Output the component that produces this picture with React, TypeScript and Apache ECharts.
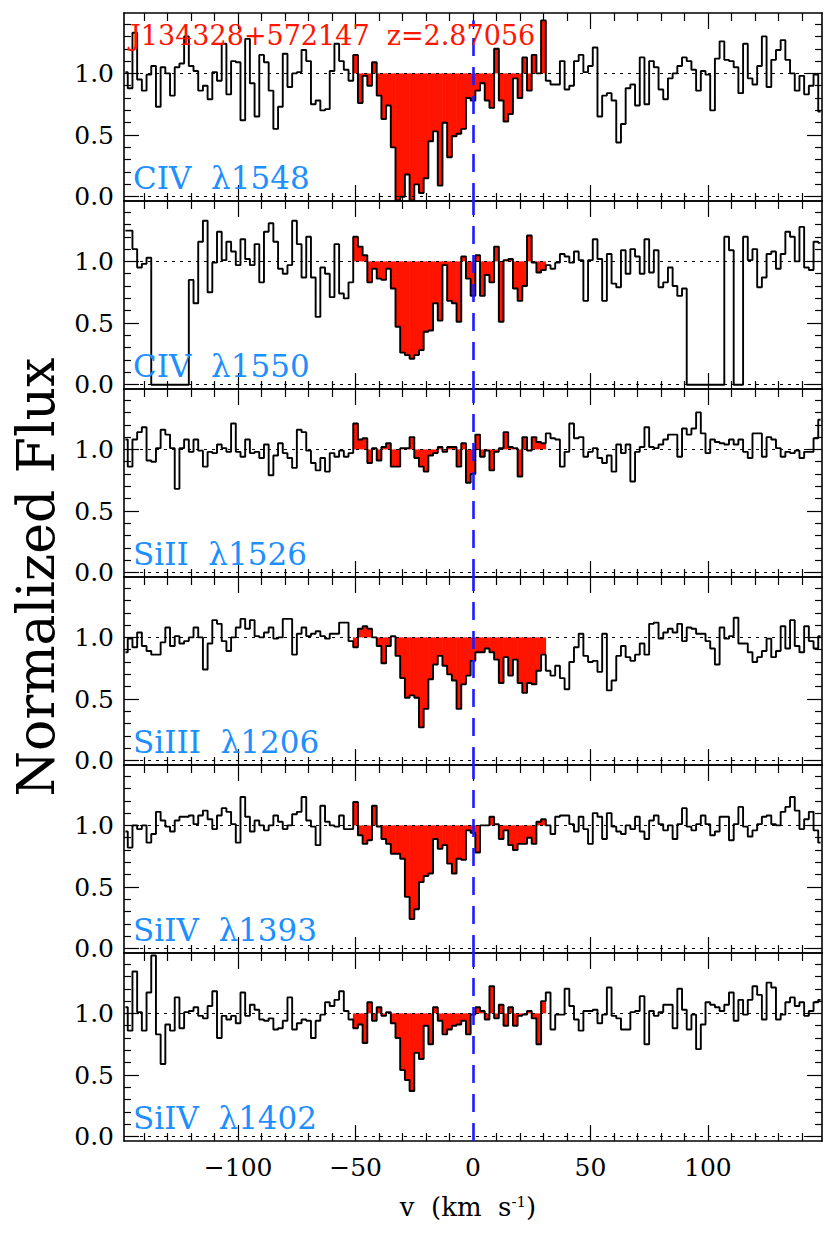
import React, { useEffect, useRef } from "react";
import * as echarts from "echarts";

// ---------------- data ----------------
const VELOCITY = [
  -148, -146, -144, -142, -140, -138, -136, -134, -132, -130,
  -128, -126, -124, -122, -120, -118, -116, -114, -112, -110,
  -108, -106, -104, -102, -100, -98, -96, -94, -92, -90,
  -88, -86, -84, -82, -80, -78, -76, -74, -72, -70,
  -68, -66, -64, -62, -60, -58, -56, -54, -52, -50,
  -48, -46, -44, -42, -40, -38, -36, -34, -32, -30,
  -28, -26, -24, -22, -20, -18, -16, -14, -12, -10,
  -8, -6, -4, -2, 0, 2, 4, 6, 8, 10,
  12, 14, 16, 18, 20, 22, 24, 26, 28, 30,
  32, 34, 36, 38, 40, 42, 44, 46, 48, 50,
  52, 54, 56, 58, 60, 62, 64, 66, 68, 70,
  72, 74, 76, 78, 80, 82, 84, 86, 88, 90,
  92, 94, 96, 98, 100, 102, 104, 106, 108, 110,
  112, 114, 116, 118, 120, 122, 124, 126, 128, 130,
  132, 134, 136, 138, 140, 142, 144, 146, 148,
];

const FLUX_CIV_1548 = [
  1.01, 0.88, 1.33, 0.95, 0.86, 0.99, 1.06, 0.73, 1.05, 1.0,
  0.82, 1.05, 1.08, 1.3, 1.06, 1.02, 0.86, 0.9, 0.79, 1.01,
  0.94, 1.24, 0.83, 1.1, 1.09, 0.62, 1.28, 0.92, 0.65, 1.15,
  1.09, 0.86, 0.55, 0.73, 1.16, 0.89, 1.0, 1.01, 1.19, 1.1,
  0.75, 0.78, 0.7, 0.71, 1.02, 1.24, 1.1, 1.03, 0.94, 1.15,
  0.76, 0.98, 0.9, 1.09, 0.82, 0.63, 0.74, 0.4, -0.03, 0.0,
  0.18, -0.03, 0.1, 0.03, 0.15, 0.45, 0.53, 0.09, 0.6, 0.32,
  0.49, 0.51, 0.55, 0.8, 0.78, 0.86, 0.92, 0.78, 0.72, 1.2,
  0.78, 0.61, 0.67, 0.96, 0.8, 1.13, 0.86, 1.15, 1.0, 1.43,
  0.94, 0.91, 0.91, 1.1, 0.87, 0.9, 1.1, 1.15, 1.01, 1.06,
  1.21, 0.65, 0.82, 0.84, 0.78, 0.44, 0.59, 0.88, 0.91, 0.74,
  1.13, 0.75, 1.1, 1.05, 0.87, 0.79, 0.96, 1.0, 1.06, 1.13,
  1.1, 1.03, 0.86, 1.02, 0.99, 0.7, 1.12, 1.26, 1.11, 1.1,
  1.05, 0.84, 1.24, 0.96, 0.91, 1.06, 1.3, 0.89, 1.11, 1.19,
  1.27, 1.11, 1.0, 0.86, 0.98, 0.83, 0.9, 0.99, 0.69,
];

const FLUX_CIV_1550 = [
  1.25, 1.25, 1.1, 0.95, 0.98, 1.03, 0, 0, 0, 0,
  0, 0, 0, 0, 0.85, 0.66, 1.16, 1.33, 0.75, 0.99,
  1.24, 1.01, 1.16, 1.08, 0.97, 1.18, 1.02, 0.97, 1.14, 0.83,
  1.24, 1.31, 1.16, 0.94, 0.9, 0.97, 1.33, 1.14, 0.87, 1.2,
  0.87, 0.55, 0.95, 0.9, 0.71, 1.14, 0.74, 0.7, 0.83, 1.2,
  1.12, 1.05, 0.83, 0.94, 0.86, 0.85, 0.94, 0.78, 0.47, 0.26,
  0.24, 0.21, 0.24, 0.28, 0.43, 0.44, 0.66, 0.52, 0.97, 0.68,
  0.66, 0.51, 1.04, 0.86, 0.72, 1.05, 0.72, 0.89, 0.83, 1.12,
  0.51, 1.01, 1.02, 0.78, 0.68, 0.8, 1.21, 0.99, 0.91, 0.93,
  0.97, 0.94, 0.99, 1.06, 1.04, 0.99, 1.08, 1.01, 0.68, 1.01,
  1.18, 1.02, 0.68, 1.06, 0.82, 0.79, 1.09, 0.9, 1.1, 1.04,
  0.9, 1.18, 0.91, 1.09, 0.79, 0.83, 0.95, 0.8, 0.72, 0.78,
  0, 0, 0, 0, 0, 0, 0, 0, 1.2, 1.09,
  0, 0, 1.2, 1.01, 1.1, 0.79, 0.87, 1.06, 1.08, 0.94,
  1.06, 1.24, 1.2, 1.0, 1.28, 0.95, 0.93, 1.16, 1.15,
];

const FLUX_SIII_1526 = [
  1.08, 0.86, 1.08, 1.14, 1.18, 0.91, 0.9, 1.01, 1.16, 1.12,
  1.01, 0.68, 1.01, 1.08, 0.98, 1.08, 0.99, 0.86, 0.98, 0.97,
  1.04, 1.01, 0.98, 1.21, 0.98, 0.94, 1.08, 0.97, 0.98, 0.93,
  1.04, 0.79, 0.95, 1.05, 0.97, 0.93, 0.85, 1.16, 1.14, 0.99,
  0.89, 0.83, 0.93, 0.82, 0.97, 0.94, 0.99, 0.94, 0.97, 1.21,
  1.08, 1.09, 0.89, 1.01, 0.91, 1.02, 1.05, 0.86, 0.86, 1.01,
  1.01, 1.1, 0.93, 0.86, 0.82, 0.95, 0.97, 1.02, 0.98, 1.02,
  1.02, 0.86, 1.05, 0.73, 0.8, 1.12, 0.94, 0.99, 0.83, 0.98,
  1.01, 1.14, 1.02, 1.01, 0.78, 1.1, 0.99, 1.1, 1.06, 1.05,
  1.13, 1.09, 1.08, 0.86, 0.98, 1.21, 1.09, 1.1, 0.94, 0.98,
  1.01, 0.93, 0.89, 0.95, 0.82, 1.04, 0.97, 1.04, 0.74, 0.98,
  1.02, 1.18, 1.02, 1.01, 1.04, 1.08, 1.12, 1.12, 0.94, 1.17,
  1.12, 1.17, 1.3, 1.13, 0.97, 1.08, 1.06, 1.05, 1.04, 1.08,
  1.04, 1.08, 0.98, 0.93, 1.13, 1.13, 0.94, 1.1, 1.08, 1.01,
  0.94, 0.98, 0.97, 0.99, 0.93, 0.98, 0.98, 1.09, 1.24,
];

const FLUX_SIIII_1206 = [
  0.88, 0.99, 0.92, 1.04, 0.93, 0.89, 0.86, 0.86, 0.96, 1.08,
  0.93, 1.01, 0.95, 0.97, 1.0, 1.08, 1.0, 0.74, 0.95, 1.14,
  1.11, 0.97, 0.89, 1.0, 1.08, 1.15, 1.07, 1.14, 1.01, 1.0,
  1.04, 1.08, 0.99, 1.0, 1.15, 1.15, 0.86, 1.03, 1.08, 1.01,
  1.03, 1.05, 1.01, 0.99, 1.03, 1.03, 1.12, 1.12, 0.97, 0.92,
  1.07, 1.09, 1.07, 1.0, 0.93, 0.79, 0.93, 1.01, 0.85, 0.67,
  0.51, 0.53, 0.51, 0.27, 0.42, 0.66, 0.78, 0.85, 0.77, 0.7,
  0.65, 0.42, 0.62, 0.69, 0.81, 0.88, 0.88, 0.91, 0.88, 0.82,
  0.63, 0.84, 0.69, 0.82, 0.63, 0.55, 0.63, 0.62, 0.73, 0.86,
  0.73, 0.69, 0.77, 0.67, 0.58, 0.8, 0.92, 1.03, 0.85, 0.8,
  0.81, 0.72, 1.03, 0.57, 0.65, 0.85, 0.93, 0.84, 0.81, 0.86,
  0.95, 0.86, 1.11, 1.12, 0.99, 1.04, 1.07, 1.04, 1.11, 0.97,
  1.08, 1.07, 1.03, 1.03, 0.97, 0.91, 0.78, 1.08, 0.99, 1.01,
  1.16, 0.95, 0.95, 0.88, 0.8, 0.84, 0.89, 0.99, 0.84, 0.89,
  1.09, 0.91, 1.14, 0.93, 0.88, 1.09, 0.97, 0.91, 1.01,
];

const FLUX_SIIV_1393 = [
  0.95, 0.82, 1.0, 0.97, 1.0, 0.86, 0.93, 1.11, 1.04, 0.99,
  0.95, 1.04, 1.07, 1.07, 1.08, 1.01, 1.08, 1.12, 1.05, 0.97,
  1.08, 1.14, 1.11, 1.01, 0.86, 1.23, 1.07, 0.95, 1.04, 1.0,
  0.96, 1.0, 1.08, 1.03, 0.97, 1.0, 1.09, 1.11, 1.23, 1.04,
  0.99, 0.84, 1.16, 1.03, 1.0, 0.99, 1.08, 0.97, 0.97, 1.19,
  0.92, 0.85, 0.88, 1.16, 0.99, 0.89, 0.85, 0.77, 0.77, 0.73,
  0.42, 0.24, 0.32, 0.54, 0.59, 0.61, 0.89, 0.81, 0.84, 0.69,
  0.61, 0.73, 0.72, 0.96, 0.94, 0.78, 1.0, 1.0, 1.07, 1.01,
  0.89, 0.96, 0.84, 0.8, 0.85, 0.85, 0.9, 0.85, 1.03, 1.05,
  1.0, 0.93, 1.07, 1.08, 1.08, 1.01, 0.95, 1.07, 0.97, 0.85,
  1.1, 1.07, 0.89, 1.1, 0.99, 0.95, 0.93, 1.0, 0.97, 1.07,
  0.95, 0.89, 1.04, 1.08, 1.01, 0.96, 1.0, 0.89, 1.01, 1.14,
  0.99, 0.96, 1.01, 1.08, 1.01, 0.92, 0.95, 1.07, 1.07, 0.88,
  1.01, 1.15, 0.99, 0.91, 0.96, 1.01, 1.07, 1.08, 1.01, 1.0,
  1.11, 1.15, 1.23, 1.12, 0.97, 1.05, 1.11, 0.96, 0.86,
];

const FLUX_SIIV_1402 = [
  1.05, 0.86, 1.34, 1.01, 0.86, 1.17, 1.47, 0.83, 0.59, 0.91,
  0.86, 1.13, 0.88, 1.01, 1.02, 1.05, 0.98, 0.96, 1.06, 1.18,
  0.8, 0.98, 0.95, 0.98, 0.92, 1.17, 0.98, 1.07, 1.03, 0.95,
  0.94, 0.96, 0.87, 0.88, 0.94, 1.13, 0.87, 0.92, 0.95, 0.94,
  0.8, 0.94, 0.99, 1.09, 1.06, 1.11, 1.18, 1.02, 0.95, 0.88,
  0.91, 0.76, 1.09, 0.94, 1.05, 0.98, 1.01, 0.92, 0.8, 0.54,
  0.46, 0.37, 0.68, 0.63, 0.9, 0.75, 1.05, 0.94, 0.83, 0.87,
  0.9, 0.91, 0.94, 0.83, 0.99, 1.05, 1.02, 0.95, 1.22, 0.96,
  1.07, 0.9, 1.05, 0.9, 0.98, 0.99, 1.02, 0.96, 0.75, 1.1,
  1.17, 0.87, 0.99, 0.99, 1.2, 1.06, 0.95, 0.86, 1.02, 1.02,
  1.03, 0.92, 0.99, 1.21, 0.98, 0.96, 0.87, 0.87, 1.01, 1.02,
  1.14, 0.75, 1.02, 0.98, 1.01, 1.07, 1.07, 0.88, 1.2, 1.03,
  0.87, 0.99, 0.71, 0.91, 1.09, 1.07, 1.05, 1.02, 1.07, 1.17,
  0.94, 1.11, 0.99, 1.11, 1.22, 1.15, 0.95, 1.25, 1.21, 0.95,
  0.99, 1.09, 1.13, 1.06, 1.09, 0.98, 1.02, 1.09, 1.11,
];

const PANEL_FLUX = [
  FLUX_CIV_1548,
  FLUX_CIV_1550,
  FLUX_SIII_1526,
  FLUX_SIIII_1206,
  FLUX_SIIV_1393,
  FLUX_SIIV_1402,
];
const PANEL_LABELS = [
  "CIV\u00a0 \u03bb1548",
  "CIV\u00a0 \u03bb1550",
  "SiII\u00a0 \u03bb1526",
  "SiIII\u00a0 \u03bb1206",
  "SiIV\u00a0 \u03bb1393",
  "SiIV\u00a0 \u03bb1402",
];
const TITLE_TEXT = "J134328+572147\u00a0 z=2.87056";
const Y_TITLE = "Normalized Flux";
const X_TITLE = "v\u00a0 (km\u00a0 s{sup|-1})";

const X_MAJOR_TICKS = [-100, -50, 0, 50, 100];
const X_MINOR_TICKS = [
  -140, -130, -120, -110, -90, -80, -70, -60, -40, -30, -20, -10,
  10, 20, 30, 40, 60, 70, 80, 90, 110, 120, 130, 140,
];
const Y_MAJOR_TICKS = [0, 0.5, 1];
const Y_MINOR_TICKS = [0.1, 0.2, 0.3, 0.4, 0.6, 0.7, 0.8, 0.9, 1.1, 1.2, 1.3, 1.4];
const REFERENCE_LEVELS = [0, 1];

const X_MIN = -148.6;
const X_MAX = 148.6;
const Y_MIN = -0.035;
const Y_MAX = 1.49;
const FILL_FROM = -50;
const FILL_TO = 30;
const BIN_WIDTH = 2;
const CONTINUUM = 1;
const SYSTEMIC_V = 0;
const DASH_TOP_FIRST = 1.43;

// ---------------- layout / style ----------------
const W = 830;
const H = 1246;
const GRID_LEFT = 124;
const GRID_RIGHT = 8;
const PLOT_TOP = 13;
const PANEL_H = 188;
const SERIF = "'DejaVu Serif', 'Liberation Serif', serif";
const RED = "#ff1400";
const BLUE_LABEL = "#1e8fff";
const BLUE_LINE = "#1c1cff";

export default function App() {
  const ref = useRef<HTMLDivElement>(null);

  useEffect(() => {
    if (!ref.current) return;
    const chart = echarts.init(ref.current, null, { renderer: "svg" });

    const grid: any[] = [];
    const xAxis: any[] = [];
    const yAxis: any[] = [];
    const series: any[] = [];
    const graphic: any[] = [];

    const fmtX = (v: number) => (v < 0 ? "\u2212" + Math.abs(v) : String(v));

    const mkX = (gi: number, position: string, ticks: number[], len: number, line: boolean, labels: boolean) => ({
      type: "value",
      gridIndex: gi,
      position,
      min: X_MIN,
      max: X_MAX,
      axisLine: { show: line, onZero: false, lineStyle: { color: "#000", width: 1.6 } },
      axisTick: { show: true, inside: true, length: len, customValues: ticks, lineStyle: { color: "#000", width: 1.2 } },
      axisLabel: {
        show: labels,
        customValues: X_MAJOR_TICKS,
        formatter: fmtX,
        margin: 14,
        color: "#000",
        fontFamily: SERIF,
        fontSize: 25,
      },
      splitLine: { show: false },
    });
    const mkY = (gi: number, position: string, ticks: number[], len: number, line: boolean, labels: boolean) => ({
      type: "value",
      gridIndex: gi,
      position,
      min: Y_MIN,
      max: Y_MAX,
      axisLine: { show: line, onZero: false, lineStyle: { color: "#000", width: 1.6 } },
      axisTick: { show: true, inside: true, length: len, customValues: ticks, lineStyle: { color: "#000", width: 1.2 } },
      axisLabel: {
        show: labels,
        customValues: Y_MAJOR_TICKS,
        formatter: (v: number) => v.toFixed(1),
        margin: 10,
        color: "#000",
        fontFamily: SERIF,
        fontSize: 25,
      },
      splitLine: { show: false },
    });

    PANEL_FLUX.forEach((flux, i) => {
      const top = PLOT_TOP + i * PANEL_H;
      const isBottom = i === PANEL_FLUX.length - 1;
      grid.push({ left: GRID_LEFT, right: GRID_RIGHT, top, height: PANEL_H, outerBoundsMode: "none" });

      const xi = xAxis.length;
      xAxis.push(mkX(i, "bottom", X_MAJOR_TICKS, 16, true, isBottom));
      xAxis.push(mkX(i, "bottom", X_MINOR_TICKS, 8, false, false));
      xAxis.push(mkX(i, "top", X_MAJOR_TICKS, 16, true, false));
      xAxis.push(mkX(i, "top", X_MINOR_TICKS, 8, false, false));
      const yi = yAxis.length;
      yAxis.push(mkY(i, "left", Y_MAJOR_TICKS, 15, true, true));
      yAxis.push(mkY(i, "left", Y_MINOR_TICKS, 7, false, false));
      yAxis.push(mkY(i, "right", Y_MAJOR_TICKS, 15, true, false));
      yAxis.push(mkY(i, "right", Y_MINOR_TICKS, 7, false, false));

      const axes = { xAxisIndex: xi, yAxisIndex: yi };
      const points = VELOCITY.map((v, j) => [v, flux[j]]);
      const absorbed = points.filter((p) => p[0] >= FILL_FROM && p[0] <= FILL_TO);

      // dotted reference levels (0 and 1)
      series.push({
        type: "line",
        ...axes,
        data: [],
        silent: true,
        z: 1,
        markLine: {
          silent: true,
          symbol: ["none", "none"],
          label: { show: false },
          lineStyle: { color: "#000", width: 1, type: [3, 5] },
          emphasis: { disabled: true },
          data: REFERENCE_LEVELS.map((y) => ({ yAxis: y })),
        },
      });

      // red absorption fill between flux and continuum
      series.push({
        type: "custom",
        ...axes,
        data: absorbed,
        silent: true,
        z: 2,
        renderItem: (_p: any, api: any) => {
          const v = api.value(0);
          const f = api.value(1);
          const a = api.coord([v - BIN_WIDTH / 2, Math.max(f, CONTINUUM)]);
          const b = api.coord([v + BIN_WIDTH / 2, Math.min(f, CONTINUUM)]);
          return {
            type: "rect",
            shape: { x: a[0] - 0.3, y: a[1], width: b[0] - a[0] + 0.6, height: b[1] - a[1] },
            style: { fill: RED, stroke: null },
          };
        },
      });

      // spectrum
      series.push({
        type: "line",
        ...axes,
        data: points,
        step: "middle",
        showSymbol: false,
        symbol: "none",
        silent: true,
        z: 3,
        lineStyle: { color: "#000", width: 1.9 },
      });

      // systemic velocity dashed line
      series.push({
        type: "line",
        ...axes,
        data: [],
        silent: true,
        z: 5,
        markLine: {
          silent: true,
          symbol: ["none", "none"],
          label: { show: false },
          emphasis: { disabled: true },
          lineStyle: { color: BLUE_LINE, width: 2.6, type: [18, 11] },
          data: [
            [
              { coord: [SYSTEMIC_V, Y_MIN] },
              { coord: [SYSTEMIC_V, i === 0 ? DASH_TOP_FIRST : Y_MAX] },
            ],
          ],
        },
      });

      graphic.push({
        type: "text",
        x: 133,
        y: top + 165,
        z: 10,
        style: {
          text: PANEL_LABELS[i],
          fill: BLUE_LABEL,
          fontFamily: SERIF,
          fontSize: 31,
          align: "left",
          verticalAlign: "middle",
        },
      });
    });

    graphic.push({
      type: "text",
      x: 130,
      y: 35,
      z: 10,
      style: {
        text: TITLE_TEXT,
        fill: RED,
        fontFamily: SERIF,
        fontSize: 27,
        align: "left",
        verticalAlign: "middle",
      },
    });
    graphic.push({
      type: "text",
      x: 36,
      y: 577,
      rotation: Math.PI / 2,
      z: 10,
      style: {
        text: Y_TITLE,
        fill: "#000",
        fontFamily: SERIF,
        fontSize: 52,
        align: "center",
        verticalAlign: "middle",
      },
    });
    graphic.push({
      type: "text",
      x: 468,
      y: 1207,
      z: 10,
      style: {
        text: X_TITLE,
        fill: "#000",
        fontFamily: SERIF,
        fontSize: 26,
        align: "center",
        verticalAlign: "middle",
        rich: {
          sup: { fontFamily: SERIF, fontSize: 15, verticalAlign: "top", fill: "#000" },
        },
      },
    });

    chart.setOption({
      animation: false,
      backgroundColor: "#fff",
      grid,
      xAxis,
      yAxis,
      series,
      graphic: { elements: graphic },
    });

    return () => chart.dispose();
  }, []);

  return (
    <div
      ref={ref}
      style={{ position: "fixed", left: 0, top: 0, width: W, height: H, background: "#fff" }}
    />
  );
}
